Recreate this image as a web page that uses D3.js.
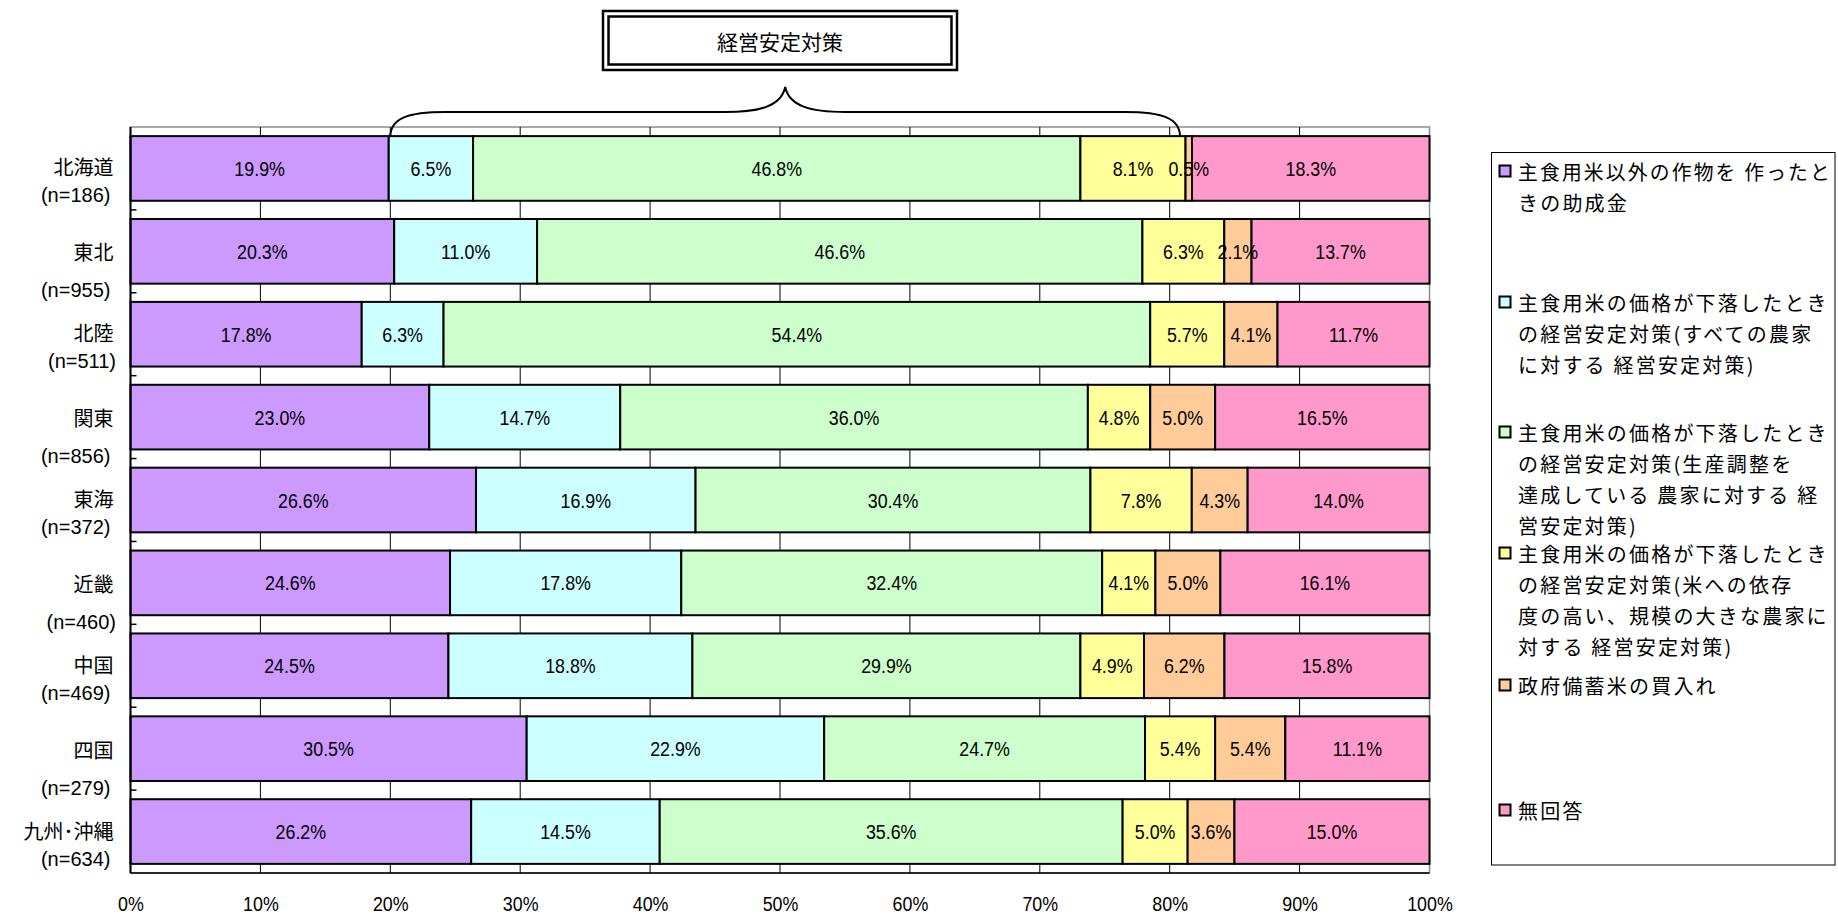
<!DOCTYPE html>
<html lang="ja">
<head>
<meta charset="UTF-8">
<title>経営安定対策</title>
<script src="https://cdn.jsdelivr.net/npm/d3@7"></script>
<style>
    html, body { margin: 0; padding: 0; background: #fff; }
    svg { display: block; }
    .cat { font-family: "Liberation Sans", "Noto Sans CJK JP", sans-serif; font-size: 20px; fill: #000; white-space: pre; }
    .val { font-family: "Liberation Sans", Arial, sans-serif; font-size: 21px; fill: #000; }
    .tick text { font-family: "Liberation Sans", Arial, sans-serif; font-size: 21px; fill: #000; }
    .legend text { font-family: "Noto Sans CJK JP", sans-serif; font-size: 20px; letter-spacing: 2.2px; fill: #000; }
    .title { font-family: "Noto Sans CJK JP", sans-serif; font-size: 21px; fill: #000; }
</style>
</head>
<body>
<svg id="chart" width="1838" height="915"></svg>
<script>
// regions (top to bottom) and their sample-size labels
const regions = ["北海道", "東北", "北陸", "関東", "東海", "近畿", "中国", "四国", "九州･沖縄"];
const nLabels = ["(n=186) ", "(n=955) ", "(n=511)", "(n=856) ", "(n=372) ", "(n=460)", "(n=469) ", "(n=279) ", "(n=634) "];

// series values, % (same order as regions)
const cropSubsidy   = [19.9, 20.3, 17.8, 23.0, 26.6, 24.6, 24.5, 30.5, 26.2];
const allFarmers    = [6.5, 11.0, 6.3, 14.7, 16.9, 17.8, 18.8, 22.9, 14.5];
const adjustFarmers = [46.8, 46.6, 54.4, 36.0, 30.4, 32.4, 29.9, 24.7, 35.6];
const largeFarmers  = [8.1, 6.3, 5.7, 4.8, 7.8, 4.1, 4.9, 5.4, 5.0];
const reserveBuy    = [0.5, 2.1, 4.1, 5.0, 4.3, 5.0, 6.2, 5.4, 3.6];
const noAnswer      = [18.3, 13.7, 11.7, 16.5, 14.0, 16.1, 15.8, 11.1, 15.0];

// legend labels, wrapped as in the original
const legendLabels = [
    ["主食用米以外の作物を 作ったと", "きの助成金"],
    ["主食用米の価格が下落したとき", "の経営安定対策(すべての農家", "に対する 経営安定対策)"],
    ["主食用米の価格が下落したとき", "の経営安定対策(生産調整を", "達成している 農家に対する 経", "営安定対策)"],
    ["主食用米の価格が下落したとき", "の経営安定対策(米への依存", "度の高い、規模の大きな農家に", "対する 経営安定対策)"],
    ["政府備蓄米の買入れ"],
    ["無回答"]
];

const xTickValues = [0, 0.1, 0.2, 0.3, 0.4, 0.5, 0.6, 0.7, 0.8, 0.9, 1.0];
const titleText = "経営安定対策";
const braceRange = [0.2, 0.808]; // share of the axis the brace spans

const colors = ["#CC99FF", "#CCFFFF", "#CCFFCC", "#FFFF99", "#FFCC99", "#FF99CC"];
const keys = ["s1", "s2", "s3", "s4", "s5", "s6"];
const seriesVals = [cropSubsidy, allFarmers, adjustFarmers, largeFarmers, reserveBuy, noAnswer];

const rows = regions.map((r, i) => {
    const row = { region: r };
    keys.forEach((k, j) => row[k] = seriesVals[j][i]);
    return row;
});

const svg = d3.select("#chart");
const plot = { left: 130.5, right: 1429.5, top: 127, bottom: 873 };

const x = d3.scaleLinear().domain([0, 1]).range([plot.left, plot.right]);
const y = d3.scaleBand().domain(regions).range([plot.top, plot.bottom])
    .paddingInner(0.22).paddingOuter(0.11);

const stacked = d3.stack().keys(keys).offset(d3.stackOffsetExpand)(rows);

// plot area
svg.append("rect")
    .attr("x", plot.left).attr("y", plot.top)
    .attr("width", plot.right - plot.left).attr("height", plot.bottom - plot.top)
    .attr("fill", "#fff").attr("stroke", "#8c8c8c").attr("stroke-width", 1.5);

// vertical gridlines
svg.append("g").selectAll("line")
    .data(xTickValues.slice(1, -1))
    .join("line")
    .attr("x1", d => x(d)).attr("x2", d => x(d))
    .attr("y1", plot.top).attr("y2", plot.bottom)
    .attr("stroke", "#000").attr("stroke-width", 1);

// bars
svg.append("g").selectAll("g")
    .data(stacked)
    .join("g")
    .attr("fill", (d, i) => colors[i])
    .selectAll("rect")
    .data(d => d)
    .join("rect")
    .attr("x", d => x(d[0]))
    .attr("y", d => y(d.data.region))
    .attr("width", d => x(d[1]) - x(d[0]))
    .attr("height", y.bandwidth())
    .attr("stroke", "#000")
    .attr("stroke-width", 2);

// value labels, drawn above every bar (narrow, like Arial Narrow)
const labelData = stacked.flatMap(layer => layer.map(d => ({ key: layer.key, d })));
svg.append("g").selectAll("text")
    .data(labelData)
    .join("text")
    .attr("class", "val")
    .attr("text-anchor", "middle")
    .attr("dominant-baseline", "central")
    .attr("transform", o => `translate(${x((o.d[0] + o.d[1]) / 2)},${y(o.d.data.region) + y.bandwidth() / 2}) scale(0.85,1)`)
    .text(o => o.d.data[o.key].toFixed(1) + "%");

// axis lines
svg.append("line")
    .attr("x1", plot.left).attr("x2", plot.left)
    .attr("y1", plot.top).attr("y2", plot.bottom)
    .attr("stroke", "#000").attr("stroke-width", 2);
svg.append("line")
    .attr("x1", plot.left).attr("x2", plot.right)
    .attr("y1", plot.bottom).attr("y2", plot.bottom)
    .attr("stroke", "#000").attr("stroke-width", 1.5);

// category tick marks between bars
const gap = y.step() * y.paddingInner() / 2;
svg.append("g").selectAll("line")
    .data(regions.slice(1))
    .join("line")
    .attr("x1", plot.left).attr("x2", plot.left + 6)
    .attr("y1", d => y(d) - gap).attr("y2", d => y(d) - gap)
    .attr("stroke", "#000").attr("stroke-width", 1.5);

// x axis labels
const xAxis = svg.append("g")
    .attr("transform", `translate(0,${plot.bottom})`)
    .call(d3.axisBottom(x).tickValues(xTickValues).tickFormat(d3.format(".0%")).tickSize(0).tickPadding(23));
xAxis.select(".domain").remove();
xAxis.selectAll("text").attr("transform", "scale(0.85,1)");

// category labels
const catG = svg.append("g");
regions.forEach((r, i) => {
    const cy = y(r) + y.bandwidth() / 2;
    const odd = i % 2 === 1;
    catG.append("text").attr("class", "cat")
        .attr("x", 113.5).attr("y", cy + (odd ? 2 : 0))
        .attr("text-anchor", "end").attr("dominant-baseline", "central")
        .text(r);
    catG.append("text").attr("class", "cat")
        .attr("x", 116).attr("y", cy + (odd ? 39 : 27))
        .attr("text-anchor", "end").attr("dominant-baseline", "central")
        .text(nLabels[i]);
});

// brace over the stabilisation measures
const bx0 = x(braceRange[0]), bx1 = x(braceRange[1]);
const bm = (bx0 + bx1) / 2;
const yBot = 137, yMid = 112, yTip = 87;
const bracePath = `M${bx0},${yBot} C${bx0},${yMid + 6} ${bx0 + 18},${yMid} ${bx0 + 55},${yMid}
    L${bm - 60},${yMid} C${bm - 25},${yMid} ${bm - 4},${yMid - 6} ${bm},${yTip}
    C${bm + 4},${yMid - 6} ${bm + 25},${yMid} ${bm + 60},${yMid}
    L${bx1 - 55},${yMid} C${bx1 - 18},${yMid} ${bx1},${yMid + 6} ${bx1},${yBot}`;
svg.append("path").attr("d", bracePath)
    .attr("fill", "none").attr("stroke", "#000").attr("stroke-width", 2);

// title box (double border)
const tb = { cx: x(0.5), y: 11, w: 354, h: 59 };
svg.append("rect")
    .attr("x", tb.cx - tb.w / 2).attr("y", tb.y).attr("width", tb.w).attr("height", tb.h)
    .attr("fill", "#fff").attr("stroke", "#000").attr("stroke-width", 2.5);
svg.append("rect")
    .attr("x", tb.cx - tb.w / 2 + 5.5).attr("y", tb.y + 5.5).attr("width", tb.w - 11).attr("height", tb.h - 11)
    .attr("fill", "none").attr("stroke", "#000").attr("stroke-width", 2.5);
svg.append("text").attr("class", "title")
    .attr("x", tb.cx).attr("y", tb.y + tb.h / 2)
    .attr("text-anchor", "middle").attr("dominant-baseline", "central")
    .text(titleText);

// legend
const legend = svg.append("g").attr("class", "legend");
const lg = { x: 1491.5, y: 152.5, w: 343.5, h: 712.5 };
legend.append("rect")
    .attr("x", lg.x).attr("y", lg.y).attr("width", lg.w).attr("height", lg.h)
    .attr("fill", "#fff").attr("stroke", "#000").attr("stroke-width", 1);

const entryTops = [171, 302, 432, 553, 685, 810];
const lineH = 31;
const textX = 1518;
const maxW = lg.x + lg.w - 3 - textX;
legendLabels.forEach((lines, i) => {
    legend.append("rect")
        .attr("x", 1499.5).attr("y", entryTops[i] - 5.5)
        .attr("width", 11).attr("height", 11)
        .attr("fill", colors[i]).attr("stroke", "#000").attr("stroke-width", 2);
    lines.forEach((ln, j) => {
        const t = legend.append("text")
            .attr("x", textX).attr("y", entryTops[i] + j * lineH)
            .attr("dominant-baseline", "central")
            .text(ln);
        const w = t.node().getComputedTextLength();
        if (w > maxW) t.attr("textLength", maxW).attr("lengthAdjust", "spacingAndGlyphs");
    });
});
</script>
</body>
</html>
